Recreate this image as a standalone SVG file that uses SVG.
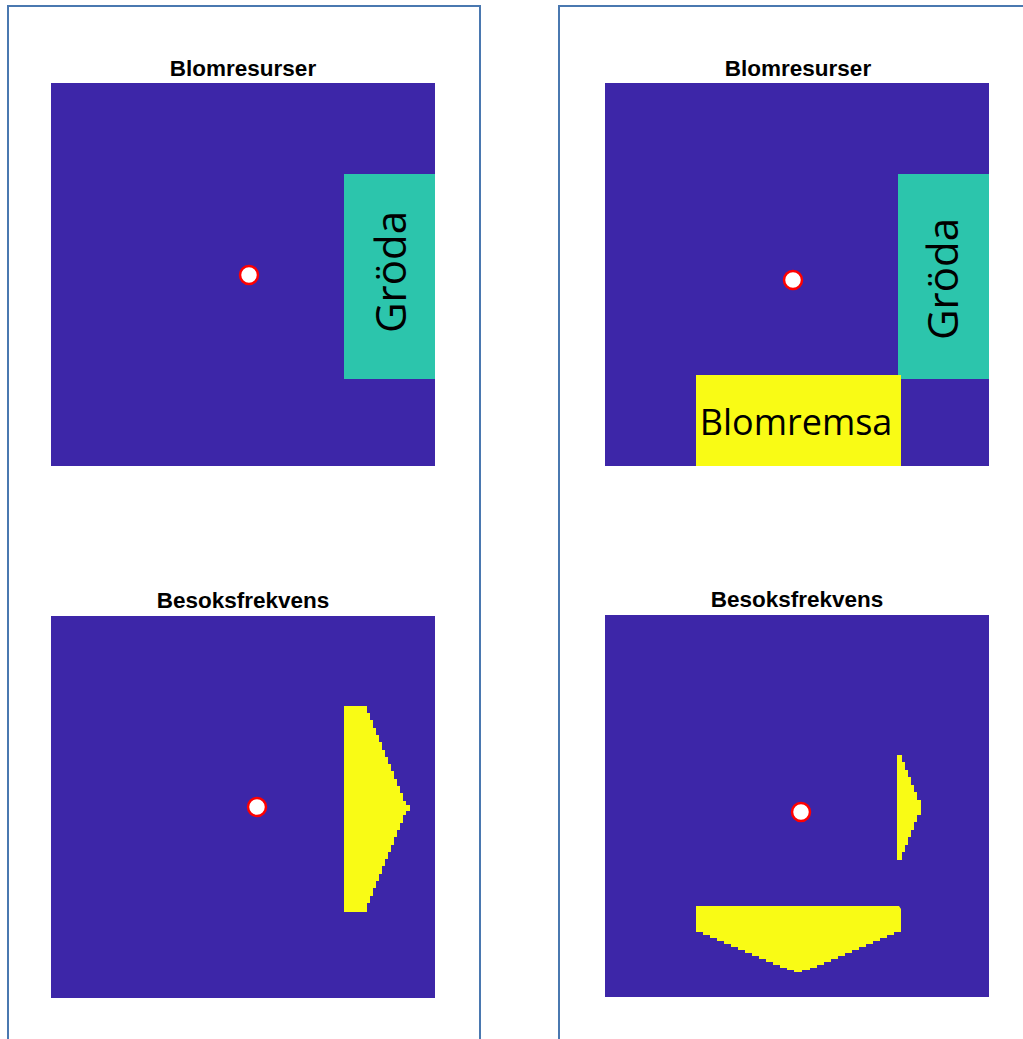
<svg xmlns="http://www.w3.org/2000/svg" width="1023" height="1039" viewBox="0 0 1023 1039">
<style>
.panel{fill:none;stroke:#4a78b0;stroke-width:2}
.plot{fill:#3d26a8}
.crop{fill:#2cc5ac}
.yel{fill:#f9fb15}
.pt{fill:#fff;stroke:#f00;stroke-width:2.5}
.title{font-family:"Liberation Sans",Arial,sans-serif;font-weight:bold;font-size:22.5px;text-anchor:middle;fill:#000}
.lbl{font-family:"Open Sans","Liberation Sans",sans-serif;font-size:36px;text-anchor:middle;fill:#000}
</style>
<rect width="1023" height="1039" fill="#fff"/>
<g id="panel-left">
<path class="panel" d="M8,1039 V6 H480 V1039"/>
</g>
<g id="panel-right">
<path class="panel" d="M559,1039 V6 H1030"/>
</g>
<g id="plot-tl">
<text class="title" x="243" y="76">Blomresurser</text>
<rect class="plot" x="51" y="83" width="384" height="383"/>
<rect class="crop" x="344" y="174" width="91" height="205"/>
<text class="lbl" transform="translate(406,272) rotate(-90)" style="font-size:42px">Gröda</text>
<circle class="pt" cx="249" cy="275" r="9"/>
</g>
<g id="plot-tr">
<text class="title" x="798" y="76">Blomresurser</text>
<rect class="plot" x="605" y="83" width="384" height="383"/>
<rect class="crop" x="898" y="174" width="91" height="205"/>
<rect class="yel" x="696" y="375" width="205" height="91"/>
<text class="lbl" x="796" y="435">Blomremsa</text>
<text class="lbl" transform="translate(958,279) rotate(-90)" style="font-size:42px">Gröda</text>
<circle class="pt" cx="793" cy="280" r="9"/>
</g>
<g id="plot-bl">
<text class="title" x="243" y="608">Besoksfrekvens</text>
<rect class="plot" x="51" y="616" width="384" height="382"/>
<path class="yel" d="M344,706 H367 V713 H370 V720 H373 V728 H376 V735 H379 V742 H382 V750 H385 V757 H388 V764 H391 V771 H394 V779 H397 V786 H400 V793 H403 V801 H406 V805 H410 V811 H406 V815 H403 V823 H400 V830 H397 V837 H394 V845 H391 V852 H388 V859 H385 V866 H382 V874 H379 V881 H376 V888 H373 V896 H370 V903 H367 V912 H344 Z"/>
<circle class="pt" cx="257" cy="807" r="9"/>
</g>
<g id="plot-br">
<text class="title" x="797" y="607">Besoksfrekvens</text>
<rect class="plot" x="605" y="615" width="384" height="382"/>
<path class="yel" d="M897,755 H902 V762 H905 V770 H908 V777 H911 V785 H914 V792 H917 V800 H921 V815 H917 V822 H914 V830 H911 V837 H908 V845 H905 V852 H902 V860 H897 Z"/>
<path class="yel" d="M696,906 H899 L901,909 V932 H894 V935 H887 V938 H880 V941 H873 V944 H866 V947 H859 V950 H852 V953 H845 V956 H838 V959 H831 V962 H824 V965 H817 V968 H810 V970 H802 V972 H794 V970 H787 V968 H780 V965 H773 V962 H766 V959 H759 V956 H752 V953 H745 V950 H738 V947 H731 V944 H724 V941 H717 V938 H710 V935 H703 V932 H696 Z"/>
<circle class="pt" cx="801" cy="812" r="9"/>
</g>
<g id="connectors"></g>
</svg>
